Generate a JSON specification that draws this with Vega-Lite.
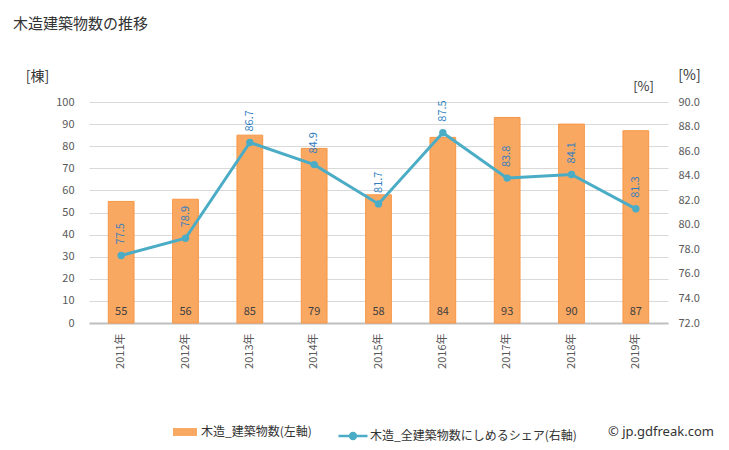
{
  "$schema": "https://vega.github.io/schema/vega-lite/v6.json",
  "autosize": "none",
  "width": 579,
  "height": 221,
  "padding": {"left": 89, "top": 102, "right": 61, "bottom": 127},
  "background": "white",
  "config": {
    "view": {"stroke": null},
    "font": "Noto Sans CJK JP",
    "axis": {"labelFont": "Noto Sans CJK JP", "titleFont": "Noto Sans CJK JP"},
    "legend": {"labelFont": "Noto Sans CJK JP", "titleFont": "Noto Sans"}
  },
  "title": {
    "text": "木造建築物数の推移",
    "anchor": "start",
    "frame": "group",
    "dx": -76,
    "offset": 36,
    "fontSize": 15,
    "fontWeight": "normal",
    "color": "#333333",
    "font": "Noto Sans CJK JP"
  },
  "data": {
    "values": [
      {"year": "2011年", "bars": 55, "pct": 77.5},
      {"year": "2012年", "bars": 56, "pct": 78.9},
      {"year": "2013年", "bars": 85, "pct": 86.7},
      {"year": "2014年", "bars": 79, "pct": 84.9},
      {"year": "2015年", "bars": 58, "pct": 81.7},
      {"year": "2016年", "bars": 84, "pct": 87.5},
      {"year": "2017年", "bars": 93, "pct": 83.8},
      {"year": "2018年", "bars": 90, "pct": 84.1},
      {"year": "2019年", "bars": 87, "pct": 81.3}
    ]
  },
  "encoding": {
    "x": {
      "field": "year",
      "type": "nominal",
      "sort": null,
      "scale": {"paddingInner": 0.6, "paddingOuter": 0.3},
      "axis": {
        "title": "[%]",
        "titleX": 554,
        "titleY": -237,
        "titleAlign": "center",
        "titleBaseline": "middle",
        "titleAngle": 0,
        "titleFontSize": 13,
        "titleFontWeight": "normal",
        "titleColor": "#333333",
        "labelAngle": -90,
        "labelPadding": 10,
        "labelFontSize": 11,
        "labelColor": "#595959",
        "ticks": false,
        "domainColor": "#bfbfbf",
        "domainWidth": 2
      }
    }
  },
  "layer": [
    {
      "layer": [
        {
          "mark": {"type": "bar", "stroke": "#f79646", "strokeWidth": 1},
          "encoding": {
            "y": {
              "field": "bars",
              "type": "quantitative",
              "scale": {"domain": [0, 100], "nice": false},
              "axis": {
                "title": "[棟]",
                "titleAngle": 0,
                "titleX": -52,
                "titleY": -26,
                "titleAlign": "center",
                "titleBaseline": "middle",
                "titleFontSize": 14,
                "titleFontWeight": "normal",
                "titleColor": "#333333",
                "values": [0, 10, 20, 30, 40, 50, 60, 70, 80, 90, 100],
                "labelOverlap": false,
                "labelBound": false,
                "grid": true,
                "gridColor": "#d9d9d9",
                "domain": false,
                "ticks": false,
                "labelPadding": 15,
                "labelFontSize": 11,
                "labelColor": "#595959"
              }
            },
            "fill": {
              "datum": "木造_建築物数(左軸)",
              "scale": {"range": ["#f9a862"]},
              "legend": {
                "orient": "none",
                "legendX": 84,
                "legendY": 318,
                "title": null,
                "symbolType": "M-1,-0.33H1V0.33H-1Z",
                "symbolSize": 576,
                "symbolStrokeWidth": 0,
                "labelFontSize": 12,
                "labelColor": "#333333",
                "labelOffset": 4,
                "labelLimit": 400
              }
            }
          }
        },
        {
          "mark": {"type": "text", "dy": -11, "fontSize": 11, "color": "#404040", "baseline": "middle"},
          "encoding": {
            "y": {
              "datum": 0,
              "type": "quantitative",
              "axis": {
                "title": "[棟]",
                "titleAngle": 0,
                "titleX": -52,
                "titleY": -26,
                "titleAlign": "center",
                "titleBaseline": "middle",
                "titleFontSize": 14,
                "titleFontWeight": "normal",
                "titleColor": "#333333",
                "values": [0, 10, 20, 30, 40, 50, 60, 70, 80, 90, 100],
                "labelOverlap": false,
                "labelBound": false,
                "grid": true,
                "gridColor": "#d9d9d9",
                "domain": false,
                "ticks": false,
                "labelPadding": 15,
                "labelFontSize": 11,
                "labelColor": "#595959"
              }
            },
            "text": {"field": "bars", "type": "quantitative"}
          }
        }
      ]
    },
    {
      "layer": [
        {
          "mark": {"type": "line", "strokeWidth": 3},
          "encoding": {
            "y": {
              "field": "pct",
              "type": "quantitative",
              "scale": {"domain": [72, 90], "nice": false, "zero": false},
              "axis": {
                "orient": "right",
                "title": "[%]",
                "titleAngle": 0,
                "titleX": 21,
                "titleY": -27,
                "titleAlign": "center",
                "titleBaseline": "middle",
                "titleFontSize": 14,
                "titleFontWeight": "normal",
                "titleColor": "#333333",
                "values": [72, 74, 76, 78, 80, 82, 84, 86, 88, 90],
                "labelOverlap": false,
                "labelBound": false,
                "format": ".1f",
                "grid": false,
                "domain": false,
                "ticks": false,
                "labelPadding": 10,
                "labelFontSize": 11,
                "labelColor": "#595959"
              }
            },
            "stroke": {
              "datum": "木造_全建築物数にしめるシェア(右軸)",
              "scale": {"range": ["#4bacc6"]},
              "legend": {
                "orient": "none",
                "legendX": 248,
                "legendY": 318,
                "title": "© jp.gdfreak.com",
                "titleOrient": "right",
                "titlePadding": 31,
                "titleFontSize": 13,
                "titleFontWeight": "normal",
                "titleColor": "#333333",
                "titleLimit": 300,
                "symbolType": "M-1,0H1M-0.2,0A0.2,0.2,0,1,1,0.2,0A0.2,0.2,0,1,1,-0.2,0Z",
                "symbolSize": 841,
                "symbolStrokeWidth": 2.5,
                "symbolFillColor": "#4bacc6",
                "labelFontSize": 12,
                "labelColor": "#333333",
                "labelOffset": 1,
                "labelLimit": 400
              }
            }
          }
        },
        {
          "mark": {"type": "point", "filled": true, "size": 55, "opacity": 1, "color": "#4bacc6"},
          "encoding": {
            "y": {
              "field": "pct",
              "type": "quantitative",
              "axis": {
                "orient": "right",
                "title": "[%]",
                "titleAngle": 0,
                "titleX": 21,
                "titleY": -27,
                "titleAlign": "center",
                "titleBaseline": "middle",
                "titleFontSize": 14,
                "titleFontWeight": "normal",
                "titleColor": "#333333",
                "values": [72, 74, 76, 78, 80, 82, 84, 86, 88, 90],
                "labelOverlap": false,
                "labelBound": false,
                "format": ".1f",
                "grid": false,
                "domain": false,
                "ticks": false,
                "labelPadding": 10,
                "labelFontSize": 11,
                "labelColor": "#595959"
              }
            }
          }
        },
        {
          "mark": {"type": "text", "angle": 270, "align": "left", "baseline": "middle", "dx": 11, "fontSize": 11, "color": "#2e7dc0"},
          "encoding": {
            "y": {
              "field": "pct",
              "type": "quantitative",
              "axis": {
                "orient": "right",
                "title": "[%]",
                "titleAngle": 0,
                "titleX": 21,
                "titleY": -27,
                "titleAlign": "center",
                "titleBaseline": "middle",
                "titleFontSize": 14,
                "titleFontWeight": "normal",
                "titleColor": "#333333",
                "values": [72, 74, 76, 78, 80, 82, 84, 86, 88, 90],
                "labelOverlap": false,
                "labelBound": false,
                "format": ".1f",
                "grid": false,
                "domain": false,
                "ticks": false,
                "labelPadding": 10,
                "labelFontSize": 11,
                "labelColor": "#595959"
              }
            },
            "text": {"field": "pct", "type": "quantitative", "format": ".1f"}
          }
        }
      ]
    }
  ],
  "resolve": {"scale": {"y": "independent"}}
}
